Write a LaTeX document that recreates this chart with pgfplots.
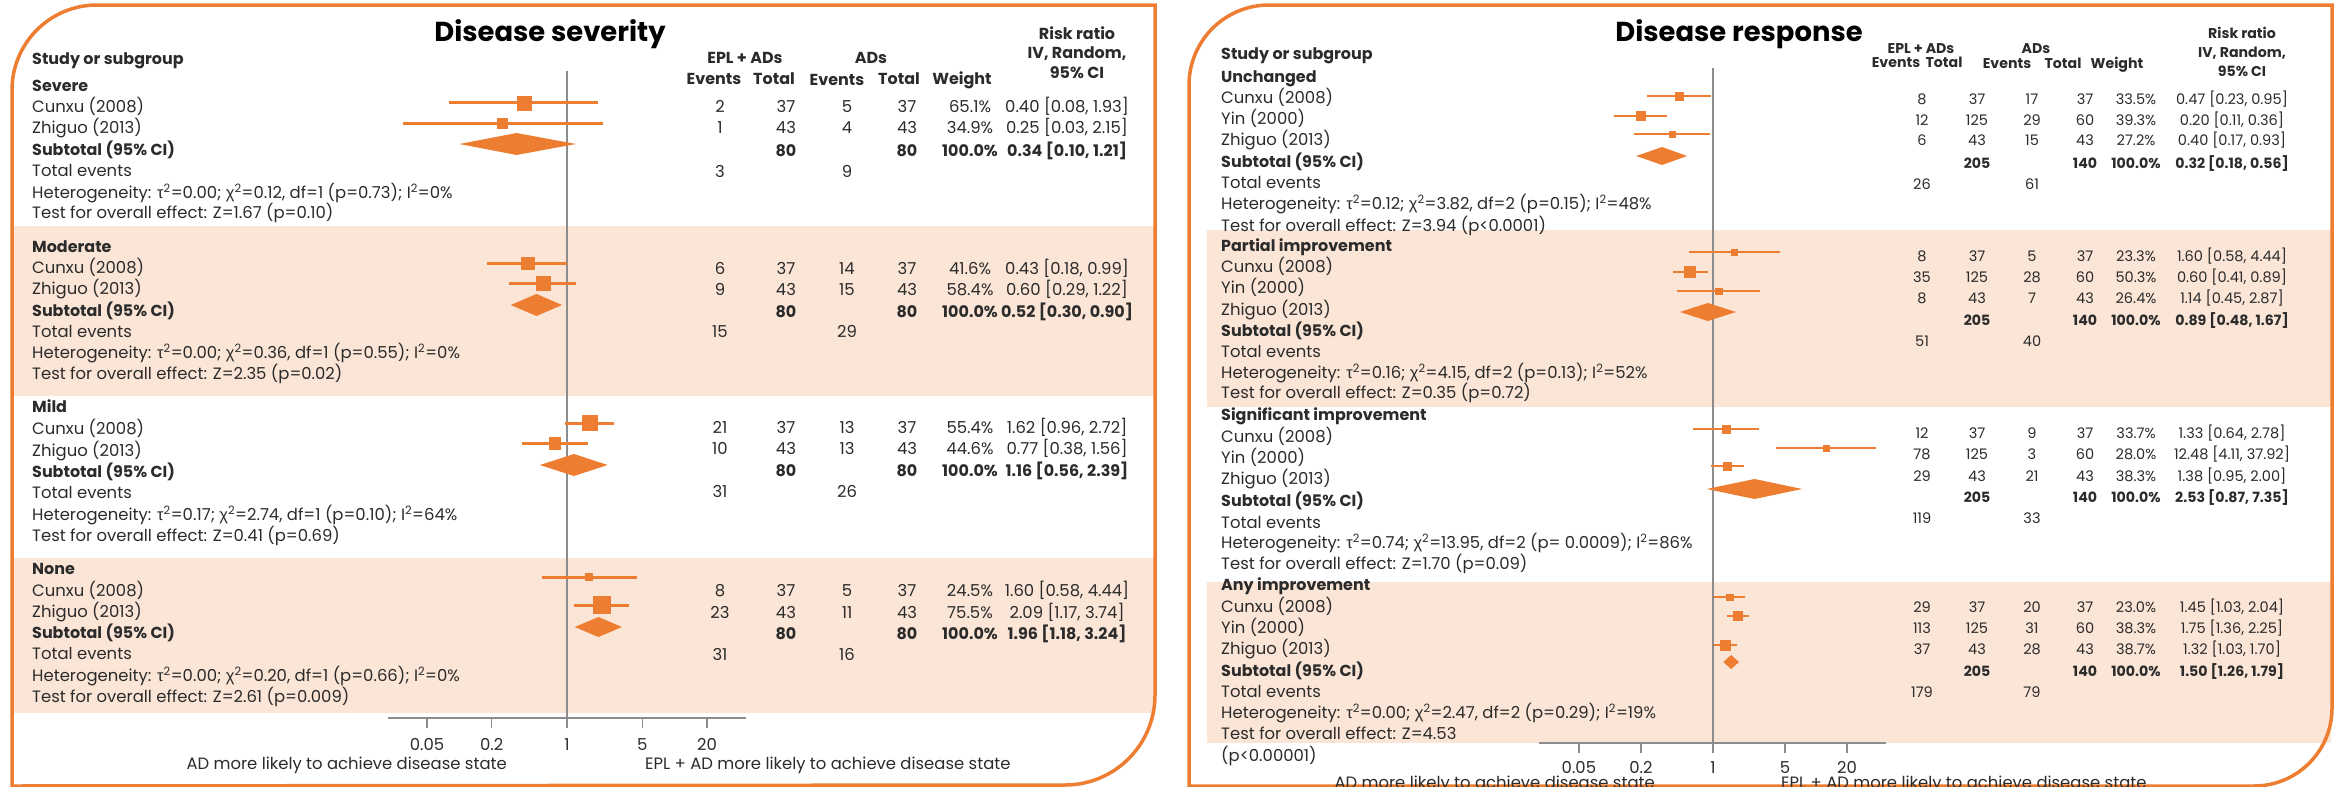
\documentclass[border=0pt]{standalone}
\usepackage{fontspec}
\setmainfont{Poppins}
\newfontfamily\grk{Liberation Sans}
\usepackage{pgfplots}
\pgfplotsset{compat=1.18}
\definecolor{org}{HTML}{ED7D31}
\definecolor{band}{HTML}{FBE5D6}
\definecolor{txt}{HTML}{2B2B2B}
\definecolor{axgray}{HTML}{8C8C8C}
\newcommand{\bodyf}{\fontsize{16.5}{19}\selectfont}
\newcommand{\smallf}{\fontsize{14.6}{17}\selectfont}
\newcommand{\B}[1]{{\fontsize{16}{19}\selectfont\bfseries #1}}
\newcommand{\Bs}[1]{{\fontsize{14.2}{17}\selectfont\bfseries #1}}
\newcommand{\titf}{\fontsize{27.5}{32}\selectfont\bfseries}
\newcommand{\Lt}[3]{\node[anchor=base west,inner sep=0pt,text=txt,font=\bodyf] at (#1bp,-#2bp-5.8bp) {#3};}
\newcommand{\Ct}[3]{\node[anchor=base,inner sep=0pt,text=txt,font=\bodyf] at (#1bp,-#2bp-5.8bp) {#3};}
\newcommand{\Cs}[3]{\node[anchor=base,inner sep=0pt,text=txt,font=\smallf] at (#1bp,-#2bp-5.2bp) {#3};}
\newcommand{\Tt}[3]{\node[anchor=base,inner sep=0pt,text=black,font=\titf] at (#1bp,-#2bp-10bp) {#3};}
\newcommand{\RowL}[7]{\Ct{720}{#1}{#2}\Ct{786}{#1}{#3}\Ct{847}{#1}{#4}\Ct{907}{#1}{#5}\Ct{970}{#1}{#6}\Ct{1067}{#1}{#7}}
\newcommand{\RowR}[7]{\Cs{1922}{#1}{#2}\Cs{1977}{#1}{#3}\Cs{2032}{#1}{#4}\Cs{2085}{#1}{#5}\Cs{2136}{#1}{#6}\Cs{2232}{#1}{#7}}
\newcommand{\het}[5]{Heterogeneity: {\grk τ}\textsuperscript{2}=#1; {\grk χ}\textsuperscript{2}=#2, df=#3 (p=#4); I\textsuperscript{2}=#5}
\newcommand{\ciw}{3bp}
\newcommand{\st}[5]{%
 \addplot[org, line width=\ciw, forget plot] coordinates {(#3,-#1) (#4,-#1)};
 \addplot[only marks, mark=square*, mark size=#5, color=org, forget plot] coordinates {(#2,-#1)};}
\newcommand{\dm}[6]{%
 \addplot[fill=org, draw=none, forget plot] coordinates {(#3,-#1) (#2,-#5) (#4,-#1) (#2,-#6)} --cycle;}
\begin{document}
\begin{tikzpicture}
\useasboundingbox (0,0) rectangle (2336bp,-787bp);
\fill[band] (13bp,-226bp) rectangle (1154bp,-396bp);
\fill[band] (13bp,-558bp) rectangle (1154bp,-713bp);
\draw[org, line width=3.5bp] (12bp,-786bp) -- (12bp,-90bp) arc[start angle=180,end angle=90,radius=85bp] -- (1155bp,-5bp) -- (1155bp,-695bp) arc[start angle=0,end angle=-90,radius=90bp] -- cycle;
\fill[band] (1207bp,-230bp) rectangle (2331bp,-407bp);
\fill[band] (1207bp,-582bp) rectangle (2331bp,-743bp);
\draw[org, line width=3.5bp] (1189bp,-790bp) -- (1189bp,-85bp) arc[start angle=180,end angle=90,radius=80bp] -- (2332bp,-5bp) -- (2332bp,-708bp) arc[start angle=0,end angle=-90,radius=78bp] -- (1189bp,-786bp);

\begin{axis}[xmode=log, scale only axis, anchor=south west, at={(388bp,-718bp)}, width=358bp, height=718bp,
  xmin=0.0217, xmax=46.1, ymin=-718, ymax=0,
  axis x line*=bottom, axis y line=none,
  x axis line style={-, draw=axgray, line width=1.6bp},
  xtick={0.05,0.2,1,5,20}, xticklabels={0.05,0.2,1,5,20}, minor xtick={},
  tick align=outside, major tick length=10bp,
  xtick style={draw=axgray, line width=1.3bp},
  xticklabel style={font=\bodyf, text=txt, yshift=-7bp},
  clip=false]
\addplot[axgray, line width=1.2bp, forget plot] coordinates {(1,-71) (1,-718)};
\st{103}{0.40}{0.08}{1.93}{7}
\st{123}{0.25}{0.03}{2.15}{5}
\dm{144}{0.34}{0.10}{1.21}{133}{155}
\st{263}{0.43}{0.18}{0.99}{6.3}
\st{283}{0.60}{0.29}{1.22}{7.3}
\dm{305}{0.52}{0.30}{0.90}{294}{316}
\st{423}{1.62}{0.96}{2.72}{7.5}
\st{443}{0.77}{0.38}{1.56}{5.8}
\dm{465}{1.16}{0.56}{2.39}{454}{476}
\st{577}{1.60}{0.58}{4.44}{3.5}
\st{605}{2.09}{1.17}{3.74}{8.7}
\dm{627}{1.96}{1.18}{3.24}{617}{637}
\end{axis}

\renewcommand{\ciw}{2.6bp}
\begin{axis}[xmode=log, scale only axis, anchor=south west, at={(1539bp,-743bp)}, width=347bp, height=743bp,
  xmin=0.0205, xmax=47.8, ymin=-743, ymax=0,
  axis x line*=bottom, axis y line=none,
  x axis line style={-, draw=axgray, line width=1.6bp},
  xtick={0.05,0.2,1,5,20}, xticklabels={0.05,0.2,1,5,20}, minor xtick={},
  tick align=outside, major tick length=10bp,
  xtick style={draw=axgray, line width=1.3bp},
  xticklabel style={font=\bodyf, text=txt, yshift=-5bp},
  clip=false]
\addplot[axgray, line width=1.2bp, forget plot] coordinates {(1,-68) (1,-743)};
\st{96}{0.47}{0.23}{0.95}{4}
\st{116}{0.20}{0.11}{0.36}{4.5}
\st{134}{0.40}{0.17}{0.93}{3}
\dm{156}{0.32}{0.18}{0.56}{147}{165}
\st{252}{1.60}{0.58}{4.44}{3}
\st{272}{0.60}{0.41}{0.89}{5.5}
\st{291}{1.14}{0.45}{2.87}{3.3}
\dm{312}{0.89}{0.48}{1.67}{303}{321}
\st{429}{1.33}{0.64}{2.78}{4}
\st{448}{12.48}{4.11}{37.92}{3}
\st{466}{1.38}{0.95}{2.00}{4.3}
\dm{489}{2.53}{0.87}{7.35}{479}{499}
\st{597}{1.45}{1.03}{2.04}{3.3}
\st{616}{1.75}{1.36}{2.25}{4.5}
\st{645}{1.32}{1.03}{1.70}{4.8}
\dm{662}{1.50}{1.26}{1.79}{655}{669}
\end{axis}

\Tt{550}{31}{Disease severity}
\Lt{32}{59}{\B{Study or subgroup}}
\Ct{745}{58}{\B{EPL + ADs}}
\Ct{714}{79}{\B{Events}}\Ct{774}{79}{\B{Total}}
\Ct{871}{58}{\B{ADs}}
\Ct{837}{80}{\B{Events}}\Ct{899}{79}{\B{Total}}
\Ct{962}{79}{\B{Weight}}
\Ct{1077}{34}{\B{Risk ratio}}
\Ct{1077}{53}{\B{IV, Random,}}
\Ct{1077}{73}{\B{95\% CI}}
\Lt{32}{86}{\B{Severe}}
\Lt{32}{107}{Cunxu (2008)}
\Lt{32}{128}{Zhiguo (2013)}
\Lt{32}{150}{\B{Subtotal (95\% CI)}}
\Lt{32}{171}{Total events}
\Lt{32}{193}{\het{0.00}{0.12}{1}{0.73}{0\%}}
\Lt{32}{213}{Test for overall effect: Z=1.67 (p=0.10)}
\RowL{107}{2}{37}{5}{37}{65.1\%}{0.40 [0.08, 1.93]}
\RowL{128}{1}{43}{4}{43}{34.9\%}{0.25 [0.03, 2.15]}
\RowL{151}{}{\B{80}}{}{\B{80}}{\B{100.0\%}}{\B{0.34 [0.10, 1.21]}}
\Ct{720}{172}{3}\Ct{847}{172}{9}
\Lt{32}{247}{\B{Moderate}}
\Lt{32}{268}{Cunxu (2008)}
\Lt{32}{289}{Zhiguo (2013)}
\Lt{32}{311}{\B{Subtotal (95\% CI)}}
\Lt{32}{332}{Total events}
\Lt{32}{353}{\het{0.00}{0.36}{1}{0.55}{0\%}}
\Lt{32}{374}{Test for overall effect: Z=2.35 (p=0.02)}
\RowL{269}{6}{37}{14}{37}{41.6\%}{0.43 [0.18, 0.99]}
\RowL{290}{9}{43}{15}{43}{58.4\%}{0.60 [0.29, 1.22]}
\RowL{312}{}{\B{80}}{}{\B{80}}{\B{100.0\%}}{\B{0.52 [0.30, 0.90]}}
\Ct{720}{332}{15}\Ct{847}{332}{29}
\Lt{32}{407}{\B{Mild}}
\Lt{32}{429}{Cunxu (2008)}
\Lt{32}{451}{Zhiguo (2013)}
\Lt{32}{472}{\B{Subtotal (95\% CI)}}
\Lt{32}{493}{Total events}
\Lt{32}{515}{\het{0.17}{2.74}{1}{0.10}{64\%}}
\Lt{32}{536}{Test for overall effect: Z=0.41 (p=0.69)}
\RowL{428}{21}{37}{13}{37}{55.4\%}{1.62 [0.96, 2.72]}
\RowL{449}{10}{43}{13}{43}{44.6\%}{0.77 [0.38, 1.56]}
\RowL{471}{}{\B{80}}{}{\B{80}}{\B{100.0\%}}{\B{1.16 [0.56, 2.39]}}
\Ct{720}{492}{31}\Ct{847}{492}{26}
\Lt{32}{569}{\B{None}}
\Lt{32}{591}{Cunxu (2008)}
\Lt{32}{612}{Zhiguo (2013)}
\Lt{32}{633}{\B{Subtotal (95\% CI)}}
\Lt{32}{654}{Total events}
\Lt{32}{676}{\het{0.00}{0.20}{1}{0.66}{0\%}}
\Lt{32}{697}{Test for overall effect: Z=2.61 (p=0.009)}
\RowL{591}{8}{37}{5}{37}{24.5\%}{1.60 [0.58, 4.44]}
\RowL{613}{23}{43}{11}{43}{75.5\%}{2.09 [1.17, 3.74]}
\RowL{634}{}{\B{80}}{}{\B{80}}{\B{100.0\%}}{\B{1.96 [1.18, 3.24]}}
\Ct{720}{655}{31}\Ct{847}{655}{16}
\node[anchor=base east,inner sep=0pt,text=txt,font=\bodyf] at (507bp,-764bp-5.8bp) {AD more likely to achieve disease state};
\node[anchor=base west,inner sep=0pt,text=txt,font=\bodyf] at (645bp,-764bp-5.8bp) {EPL + AD more likely to achieve disease state};

\Tt{1739}{31}{Disease response}
\Lt{1221}{54}{\B{Study or subgroup}}
\Cs{1921}{48}{\Bs{EPL + ADs}}
\Cs{1896}{62}{\Bs{Events}}\Cs{1944}{62}{\Bs{Total}}
\Cs{2036}{48}{\Bs{ADs}}
\Cs{2007}{63}{\Bs{Events}}\Cs{2063}{63}{\Bs{Total}}
\Cs{2117}{63}{\Bs{Weight}}
\Cs{2242}{33}{\Bs{Risk ratio}}
\Cs{2242}{52}{\Bs{IV, Random,}}
\Cs{2242}{71}{\Bs{95\% CI}}
\Lt{1221}{77}{\B{Unchanged}}
\Lt{1221}{98}{Cunxu (2008)}
\Lt{1221}{119}{Yin (2000)}
\Lt{1221}{140}{Zhiguo (2013)}
\Lt{1221}{162}{\B{Subtotal (95\% CI)}}
\Lt{1221}{183}{Total events}
\Lt{1221}{204}{\het{0.12}{3.82}{2}{0.15}{48\%}}
\Lt{1221}{226}{Test for overall effect: Z=3.94 (p<0.0001)}
\RowR{99}{8}{37}{17}{37}{33.5\%}{0.47 [0.23, 0.95]}
\RowR{120}{12}{125}{29}{60}{39.3\%}{0.20 [0.11, 0.36]}
\RowR{140}{6}{43}{15}{43}{27.2\%}{0.40 [0.17, 0.93]}
\RowR{163}{}{\Bs{205}}{}{\Bs{140}}{\Bs{100.0\%}}{\Bs{0.32 [0.18, 0.56]}}
\Cs{1922}{184}{26}\Cs{2032}{184}{61}
\Lt{1221}{246}{\B{Partial improvement}}
\Lt{1221}{267}{Cunxu (2008)}
\Lt{1221}{288}{Yin (2000)}
\Lt{1221}{310}{Zhiguo (2013)}
\Lt{1221}{331}{\B{Subtotal (95\% CI)}}
\Lt{1221}{352}{Total events}
\Lt{1221}{373}{\het{0.16}{4.15}{2}{0.13}{52\%}}
\Lt{1221}{393}{Test for overall effect: Z=0.35 (p=0.72)}
\RowR{256}{8}{37}{5}{37}{23.3\%}{1.60 [0.58, 4.44]}
\RowR{277}{35}{125}{28}{60}{50.3\%}{0.60 [0.41, 0.89]}
\RowR{298}{8}{43}{7}{43}{26.4\%}{1.14 [0.45, 2.87]}
\RowR{320}{}{\Bs{205}}{}{\Bs{140}}{\Bs{100.0\%}}{\Bs{0.89 [0.48, 1.67]}}
\Cs{1922}{341}{51}\Cs{2032}{341}{40}
\Lt{1221}{415}{\B{Significant improvement}}
\Lt{1221}{437}{Cunxu (2008)}
\Lt{1221}{458}{Yin (2000)}
\Lt{1221}{479}{Zhiguo (2013)}
\Lt{1221}{501}{\B{Subtotal (95\% CI)}}
\Lt{1221}{523}{Total events}
\Lt{1221}{543}{\het{0.74}{13.95}{2}{ 0.0009}{86\%}}
\Lt{1221}{564}{Test for overall effect: Z=1.70 (p=0.09)}
\RowR{433}{12}{37}{9}{37}{33.7\%}{1.33 [0.64, 2.78]}
\RowR{454}{78}{125}{3}{60}{28.0\%}{12.48 [4.11, 37.92]}
\RowR{476}{29}{43}{21}{43}{38.3\%}{1.38 [0.95, 2.00]}
\RowR{497}{}{\Bs{205}}{}{\Bs{140}}{\Bs{100.0\%}}{\Bs{2.53 [0.87, 7.35]}}
\Cs{1922}{518}{119}\Cs{2032}{518}{33}
\Lt{1221}{585}{\B{Any improvement}}
\Lt{1221}{607}{Cunxu (2008)}
\Lt{1221}{628}{Yin (2000)}
\Lt{1221}{649}{Zhiguo (2013)}
\Lt{1221}{671}{\B{Subtotal (95\% CI)}}
\Lt{1221}{692}{Total events}
\Lt{1221}{713}{\het{0.00}{2.47}{2}{0.29}{19\%}}
\Lt{1221}{734}{Test for overall effect: Z=4.53}
\Lt{1221}{756}{(p<0.00001)}
\RowR{607}{29}{37}{20}{37}{23.0\%}{1.45 [1.03, 2.04]}
\RowR{628}{113}{125}{31}{60}{38.3\%}{1.75 [1.36, 2.25]}
\RowR{649}{37}{43}{28}{43}{38.7\%}{1.32 [1.03, 1.70]}
\RowR{671}{}{\Bs{205}}{}{\Bs{140}}{\Bs{100.0\%}}{\Bs{1.50 [1.26, 1.79]}}
\Cs{1922}{692}{179}\Cs{2032}{692}{79}
\node[anchor=base east,inner sep=0pt,text=txt,font=\bodyf] at (1655bp,-783bp-5.8bp) {AD more likely to achieve disease state};
\node[anchor=base west,inner sep=0pt,text=txt,font=\bodyf] at (1781bp,-783bp-5.8bp) {EPL + AD more likely to achieve disease state};
\end{tikzpicture}
\end{document}
